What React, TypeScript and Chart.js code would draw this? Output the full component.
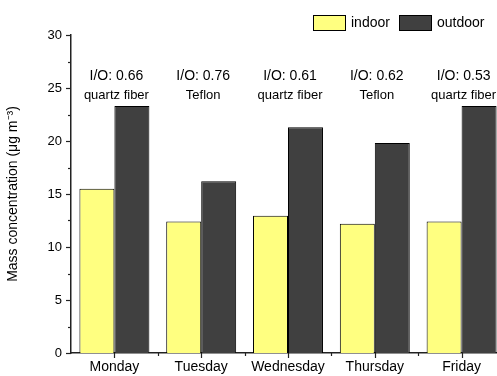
import React, { useEffect, useRef } from "react";
import { Chart, registerables } from "chart.js";

Chart.register(...registerables);

const days = ["Monday", "Tuesday", "Wednesday", "Thursday", "Friday"];
const indoor = [15.5, 12.4, 12.95, 12.2, 12.4];
const outdoor = [23.3, 16.2, 21.3, 19.8, 23.3];
const ratios = ["I/O: 0.66", "I/O: 0.76", "I/O: 0.61", "I/O: 0.62", "I/O: 0.53"];
const filters = ["quartz fiber", "Teflon", "quartz fiber", "Teflon", "quartz fiber"];
const ratioLabelY = 26.1;
const filterLabelY = 24.3;
const yTicksMajor = [0, 5, 10, 15, 20, 25, 30];

const FONT = "'Liberation Sans', Arial, sans-serif";
const AXIS = "#222";

const decorPlugin = {
  id: "decor",
  afterDraw(chart: any) {
    const ctx = chart.ctx;
    const xs = chart.scales.x;
    const ys = chart.scales.y;
    const area = chart.chartArea;
    ctx.save();
    ctx.strokeStyle = AXIS;
    ctx.lineWidth = 1.2;
    // y ticks
    for (let i = 0; i < yTicksMajor.length; i++) {
      const v = yTicksMajor[i];
      const py = Math.round(ys.getPixelForValue(v)) + 0.5;
      ctx.beginPath();
      ctx.moveTo(area.left - 5, py);
      ctx.lineTo(area.left, py);
      ctx.stroke();
      if (i < yTicksMajor.length - 1) {
        const m = (v + yTicksMajor[i + 1]) / 2;
        const pm = Math.round(ys.getPixelForValue(m)) + 0.5;
        ctx.beginPath();
        ctx.moveTo(area.left - 3, pm);
        ctx.lineTo(area.left, pm);
        ctx.stroke();
      }
    }
    // x ticks
    for (let i = 0; i < days.length; i++) {
      const px = Math.round(xs.getPixelForValue(i)) + 0.5;
      ctx.beginPath();
      ctx.moveTo(px, area.bottom);
      ctx.lineTo(px, area.bottom + 5);
      ctx.stroke();
      const pb = Math.round((xs.getPixelForValue(i) + xs.getPixelForValue(i + 1)) / 2) + 0.5;
      ctx.beginPath();
      ctx.moveTo(pb, area.bottom);
      ctx.lineTo(pb, area.bottom + 3);
      ctx.stroke();
    }
    // annotations
    ctx.fillStyle = "#000";
    ctx.textAlign = "center";
    ctx.textBaseline = "middle";
    for (let i = 0; i < days.length; i++) {
      const px = xs.getPixelForValue(i) + 2;
      ctx.font = `14px ${FONT}`;
      ctx.fillText(ratios[i], px, ys.getPixelForValue(ratioLabelY));
      ctx.font = `13px ${FONT}`;
      ctx.fillText(filters[i], px, ys.getPixelForValue(filterLabelY));
    }
    // legend
    const boxes = [313, 399];
    ctx.textAlign = "left";
    ctx.font = `14px ${FONT}`;
    chart.data.datasets.forEach((ds: any, k: number) => {
      const bx = boxes[k];
      ctx.fillStyle = ds.backgroundColor;
      ctx.fillRect(bx + 0.5, 15.5, 32, 15);
      ctx.strokeStyle = "#000";
      ctx.lineWidth = 1;
      ctx.strokeRect(bx + 0.5, 15.5, 32, 15);
      ctx.fillStyle = "#000";
      ctx.fillText(ds.label, bx + 38, 23.5);
    });
    ctx.restore();
  },
};

export default function App() {
  const ref = useRef<HTMLCanvasElement>(null);
  useEffect(() => {
    if (!ref.current) return;
    const chart = new Chart(ref.current, {
      type: "bar",
      data: {
        labels: days,
        datasets: [
          {
            label: "indoor",
            data: indoor,
            backgroundColor: "#FFFF80",
            borderColor: "#000",
            borderWidth: 1,
          },
          {
            label: "outdoor",
            data: outdoor,
            backgroundColor: "#404040",
            borderColor: "#000",
            borderWidth: 1,
          },
        ],
      },
      options: {
        animation: false,
        responsive: false,
        layout: { padding: { top: 35, left: 0, right: 15, bottom: 0 } },
        datasets: {
          bar: { categoryPercentage: 0.806, barPercentage: 1 },
        },
        plugins: {
          legend: { display: false },
          tooltip: { enabled: false },
        },
        scales: {
          x: {
            z: 1,
            grid: { display: false, drawTicks: false },
            border: { display: true, color: AXIS, width: 1.5 },
            ticks: {
              color: "#000",
              font: { size: 14, family: FONT },
              padding: 6,
              maxRotation: 0,
              autoSkip: false,
            },
            afterFit: (s: any) => {
              s.height = 23;
            },
          },
          y: {
            z: 1,
            min: 0,
            max: 30,
            grid: { display: false, drawTicks: false },
            border: { display: true, color: AXIS, width: 1.5 },
            ticks: {
              stepSize: 5,
              color: "#000",
              font: { size: 13, family: FONT },
              padding: 9,
            },
            title: {
              display: true,
              text: "Mass concentration (μg m⁻³)",
              color: "#000",
              font: { size: 14, family: FONT },
              padding: { top: 5, bottom: 0 },
            },
            afterFit: (s: any) => {
              s.width = 71;
            },
          },
        },
      },
      plugins: [decorPlugin],
    });
    return () => chart.destroy();
  }, []);
  return (
    <div
      style={{
        position: "fixed",
        left: 0,
        top: 0,
        width: 497,
        height: 376,
        overflow: "hidden",
        background: "#fff",
      }}
    >
      <canvas ref={ref} width={520} height={376} style={{ display: "block" }} />
    </div>
  );
}
